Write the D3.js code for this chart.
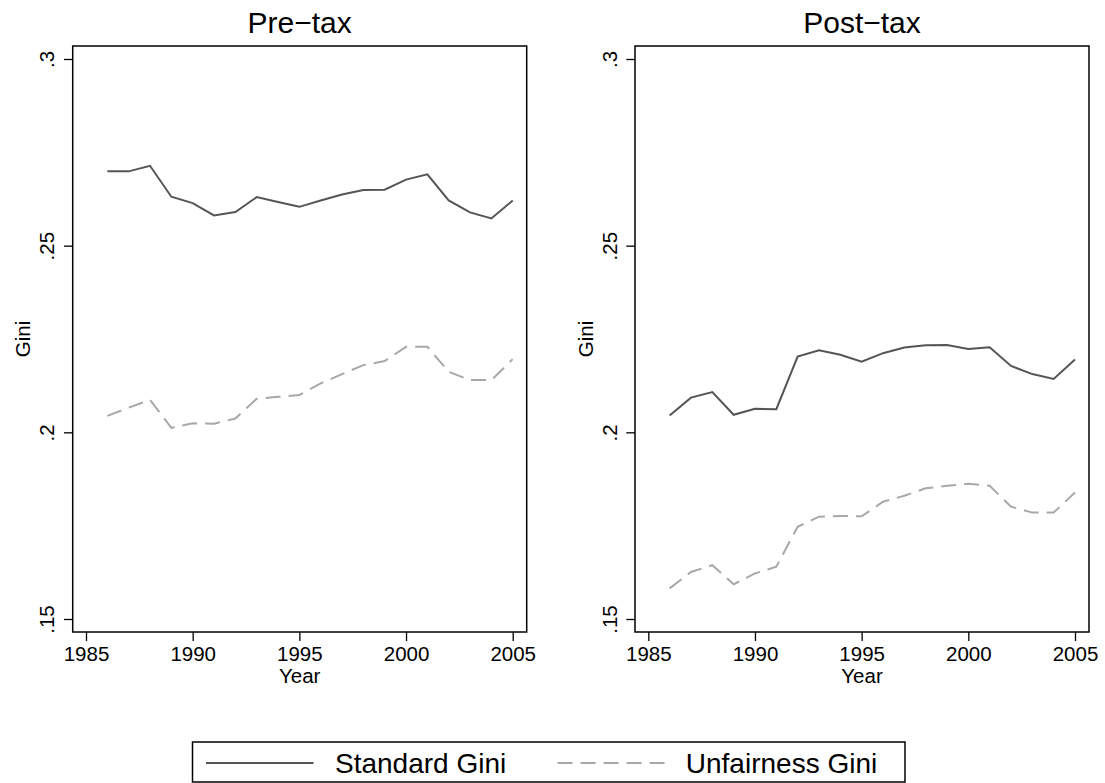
<!DOCTYPE html>
<html>
<head>
<meta charset="utf-8">
<script src="https://cdn.jsdelivr.net/npm/d3@7"></script>
<style>
  body { margin: 0; background: #fff; }
  svg { display: block; font-family: "Liberation Sans", Arial, Helvetica, sans-serif; }
</style>
</head>
<body>
<div id="chart"></div>
<script>
const years = [1986, 1987, 1988, 1989, 1990, 1991, 1992, 1993, 1994, 1995,
               1996, 1997, 1998, 1999, 2000, 2001, 2002, 2003, 2004, 2005]

const preStandard = [0.2699, 0.2699, 0.2714, 0.2631, 0.2614, 0.2581, 0.2590, 0.2630, 0.2617, 0.2604,
                     0.2621, 0.2637, 0.2649, 0.2650, 0.2677, 0.2691, 0.2621, 0.2589, 0.2573, 0.2621]
const preUnfair = [0.2044, 0.2066, 0.2087, 0.2012, 0.2024, 0.2023, 0.2037, 0.2090, 0.2095, 0.2100,
                   0.2131, 0.2156, 0.2180, 0.2191, 0.2229, 0.2229, 0.2162, 0.2140, 0.2140, 0.2196]

const postStandard = [0.2045, 0.2093, 0.2108, 0.2047, 0.2063, 0.2062, 0.2203, 0.2220, 0.2208, 0.2189,
                      0.2212, 0.2227, 0.2233, 0.2234, 0.2223, 0.2228, 0.2178, 0.2156, 0.2143, 0.2195]
const postUnfair = [0.1582, 0.1626, 0.1644, 0.1593, 0.1622, 0.1640, 0.1747, 0.1774, 0.1776, 0.1775,
                    0.1814, 0.1830, 0.1850, 0.1857, 0.1862, 0.1857, 0.1801, 0.1785, 0.1785, 0.1839]

const xTicks = [1985, 1990, 1995, 2000, 2005]
const yTicks = [0.15, 0.2, 0.25, 0.3]
const yTickLabels = [".15", ".2", ".25", ".3"]
const titles = ["Pre\u2212tax", "Post\u2212tax"]
const seriesNames = ["Standard Gini", "Unfairness Gini"]

const W = 1105, H = 783
const boxW = 454, boxH = 586, boxTop = 46
const panelLeft = [72.7, 635]

const solidColor = "#555555"
const dashColor = "#a8a8a8"
const dash = "15,8"

const svg = d3.select("#chart").append("svg")
  .attr("width", W)
  .attr("height", H)

// same scales for both panels
const xScale = d3.scaleLinear().domain([1985, 2005]).range([13.3, 440])
const yScale = d3.scaleLinear().domain([0.15, 0.3]).range([573, 13])

const line = d3.line()
  .x(d => xScale(d[0]))
  .y(d => yScale(d[1]))

const panels = [
  { title: titles[0], standard: preStandard, unfair: preUnfair },
  { title: titles[1], standard: postStandard, unfair: postUnfair }
]

panels.forEach((p, i) => {
  const g = svg.append("g")
    .attr("transform", "translate(" + panelLeft[i] + "," + boxTop + ")")

  // title
  g.append("text")
    .attr("x", boxW / 2)
    .attr("y", 32.7 - boxTop)
    .attr("text-anchor", "middle")
    .attr("font-size", 30)
    .text(p.title)

  // lines
  g.append("path")
    .datum(years.map((y, k) => [y, p.unfair[k]]))
    .attr("fill", "none")
    .attr("stroke", dashColor)
    .attr("stroke-width", 2)
    .attr("stroke-dasharray", dash)
    .attr("d", line)

  g.append("path")
    .datum(years.map((y, k) => [y, p.standard[k]]))
    .attr("fill", "none")
    .attr("stroke", solidColor)
    .attr("stroke-width", 2)
    .attr("d", line)

  // x axis
  const xAxis = d3.axisBottom(xScale)
    .tickValues(xTicks)
    .tickFormat(d3.format("d"))
    .tickSize(9)
    .tickPadding(4)
  const gx = g.append("g")
    .attr("transform", "translate(0," + boxH + ")")
    .call(xAxis)
  gx.select(".domain").remove()
  gx.selectAll("line").attr("stroke", "#000").attr("stroke-width", 1.3)
  gx.selectAll("text")
    .attr("font-size", 20.5)
    .attr("font-family", "Liberation Sans, Arial, sans-serif")
    .attr("fill", "#000")
    .attr("dy", null)
    .attr("y", 661 - boxTop - boxH)

  // y axis
  const yAxis = d3.axisLeft(yScale)
    .tickValues(yTicks)
    .tickFormat((d, k) => yTickLabels[k])
    .tickSize(8.7)
  const gy = g.append("g").call(yAxis)
  gy.select(".domain").remove()
  gy.selectAll("line").attr("stroke", "#000").attr("stroke-width", 1.3)
  gy.selectAll("text")
    .attr("font-size", 20.5)
    .attr("font-family", "Liberation Sans, Arial, sans-serif")
    .attr("fill", "#000")
    .attr("x", null)
    .attr("dy", null)
    .attr("text-anchor", "middle")
    .attr("transform", "translate(-18.5,0) rotate(-90)")

  // frame
  g.append("rect")
    .attr("width", boxW)
    .attr("height", boxH)
    .attr("fill", "none")
    .attr("stroke", "#000")
    .attr("stroke-width", 1.5)

  // axis titles
  g.append("text")
    .attr("x", boxW / 2)
    .attr("y", 683 - boxTop)
    .attr("text-anchor", "middle")
    .attr("font-size", 20.5)
    .text("Year")

  g.append("text")
    .attr("transform", "translate(-42.5," + boxH / 2 + ") rotate(-90)")
    .attr("text-anchor", "middle")
    .attr("font-size", 20.5)
    .text("Gini")
})

// legend
const legend = svg.append("g")
legend.append("rect")
  .attr("x", 192.5)
  .attr("y", 742)
  .attr("width", 712.5)
  .attr("height", 40)
  .attr("fill", "#fff")
  .attr("stroke", "#000")
  .attr("stroke-width", 1.5)

const legendItems = [
  { name: seriesNames[0], color: solidColor, dash: null, x1: 206, x2: 313.5, tx: 335 },
  { name: seriesNames[1], color: dashColor, dash: dash, x1: 557.6, x2: 665, tx: 685.8 }
]
legendItems.forEach(d => {
  legend.append("line")
    .attr("x1", d.x1).attr("x2", d.x2)
    .attr("y1", 763).attr("y2", 763)
    .attr("stroke", d.color)
    .attr("stroke-width", 2)
    .attr("stroke-dasharray", d.dash)
  legend.append("text")
    .attr("x", d.tx)
    .attr("y", 773)
    .attr("font-size", 28)
    .text(d.name)
})
</script>
</body>
</html>
